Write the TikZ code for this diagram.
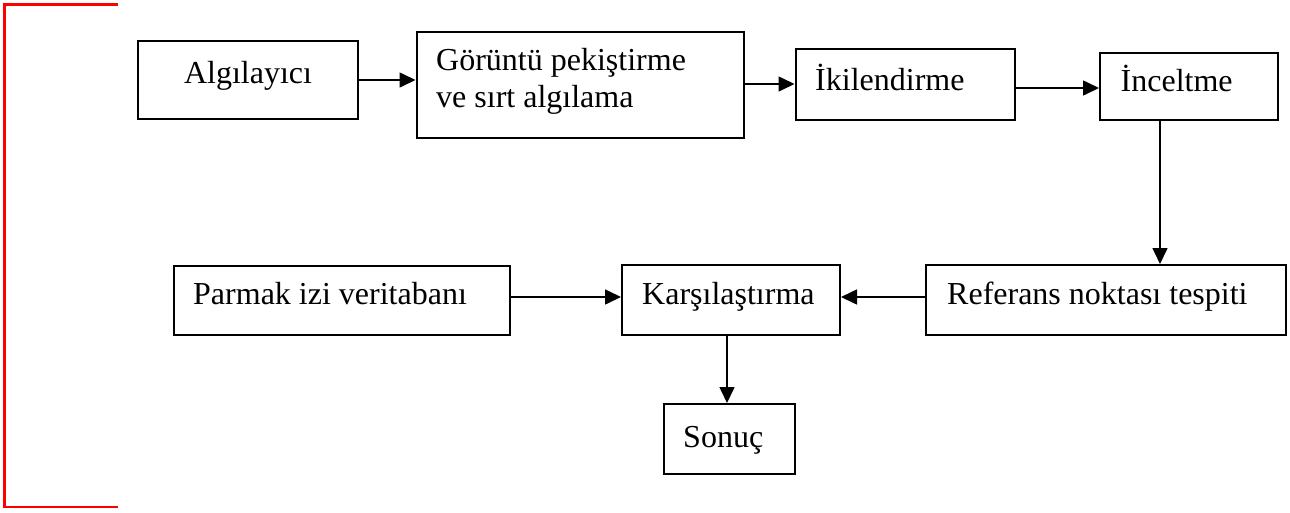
\documentclass[tikz,border=0pt]{standalone}
\usepackage{fontspec}
\setmainfont{Liberation Serif}
\usetikzlibrary{arrows.meta,calc}
\tikzset{
  box/.style={draw=black, line width=2pt, rectangle, anchor=north west, inner sep=0pt, fill=white},
  txt/.style={anchor=base west, inner sep=0pt, font=\fontsize{32}{37}\selectfont},
  conn/.style={draw=black, line width=1.6pt, -{Triangle[length=16pt,width=15pt]}},
  redline/.style={draw=red, line width=2.8pt}
}
\begin{document}
\begin{tikzpicture}[x=1pt,y=-1pt]
\useasboundingbox (0,0) rectangle (1290,512);
% red bracket
\coordinate (rt) at (118,4.5);
\coordinate (rb) at (118,507);
\draw[redline] (rt) -- (4.5,4.5) -- (4.5,507) -- (rb);
% boxes
\node[box, minimum width=220pt, minimum height=78pt] (alg) at (137,40) {};
\node[box, minimum width=327pt, minimum height=106pt] (gor) at (415.5,31) {};
\node[box, minimum width=219pt, minimum height=71pt] (iki) at (794.5,48) {};
\node[box, minimum width=178pt, minimum height=67pt] (inc) at (1099,51.5) {};
\node[box, minimum width=360pt, minimum height=70pt] (ref) at (925,264) {};
\node[box, minimum width=218pt, minimum height=70pt] (kar) at (621,264) {};
\node[box, minimum width=336pt, minimum height=69pt] (par) at (172.5,264.5) {};
\node[box, minimum width=131pt, minimum height=70pt] (son) at (663,403) {};
% texts
\node[txt, anchor=base] (talg) at ($(alg.north)+(0,43)$) {Algılayıcı};
\node[txt, align=left, anchor=north west] (tgor) at ($(gor.north west)+(20.5,17)$) {Görüntü pekiştirme\\ve sırt algılama};
\node[txt] (tiki) at ($(iki.north west)+(20.5,42)$) {İkilendirme};
\node[txt] (tinc) at ($(inc.north west)+(21.5,39.5)$) {İnceltme};
\node[txt] (tref) at ($(ref.north west)+(22,40.5)$) {Referans noktası tespiti};
\node[txt] (tkar) at ($(kar.north west)+(21,40.5)$) {Karşılaştırma};
\node[txt] (tpar) at ($(par.north west)+(20.5,40)$) {Parmak izi veritabanı};
\node[txt] (tson) at ($(son.north west)+(20,44.5)$) {Sonuç};
% connectors
\draw[conn] (alg.east) -- (alg.east -| gor.west);
\coordinate (ikii) at ($(iki.west)+(0,-0.5)$);
\draw[conn] (gor.east |- ikii) -- (ikii);
\coordinate (inci) at ($(inc.west)+(0,2)$);
\draw[conn] (iki.east |- inci) -- (inci);
\coordinate (incd) at ($(inc.south west)+(61,0)$);
\draw[conn] (incd) -- (incd |- ref.north);
\draw[conn] ($(ref.west)+(0,-3)$) -- ($(kar.east)+(0,-3)$);
\draw[conn] ($(par.east)+(0,-3)$) -- ($(kar.west)+(0,-3)$);
\coordinate (kard) at ($(kar.south west)+(106,0)$);
\draw[conn] (kard) -- (kard |- son.north);
\end{tikzpicture}
\end{document}
